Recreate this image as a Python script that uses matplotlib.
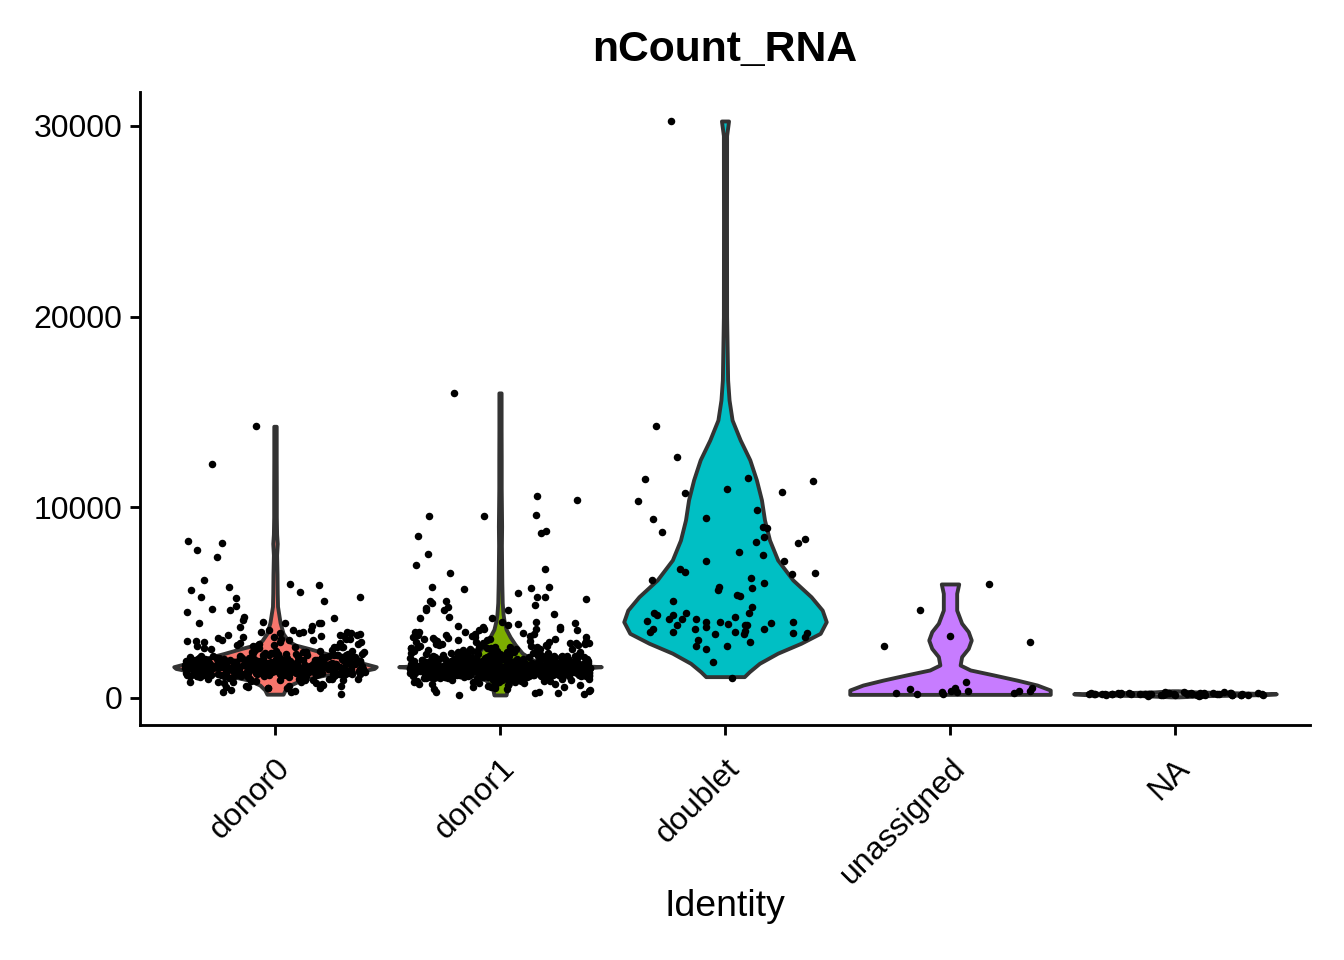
import numpy as np
import matplotlib
matplotlib.use("Agg")
import matplotlib.pyplot as plt

plt.rcParams["font.family"] = ["Liberation Sans", "DejaVu Sans"]

# ---------------------------------------------------------------------------
# data (nCount_RNA per identity)
# ---------------------------------------------------------------------------
identities = ["donor0", "donor1", "doublet", "unassigned", "NA"]
fill_colors = ["#F8766D", "#7CAE00", "#00BFC4", "#C77CFF", "#7F7F7F"]

# violin outlines: count levels and relative half-width (1 = widest)
donor0_prof_y = [200, 420, 680, 940, 1200, 1370, 1550, 1640, 1780, 1990, 2340, 2600,
                 2780, 3000, 3390, 3960, 4800, 5500, 6500, 7500, 8100, 8600, 9500,
                 11000, 12500, 14250]
donor0_prof_w = [0.08, 0.10, 0.15, 0.26, 0.49, 0.82, 0.98, 1.0, 0.9, 0.75, 0.5, 0.33,
                 0.2, 0.13, 0.08, 0.05, 0.025, 0.022, 0.02, 0.016, 0.022, 0.016, 0.013,
                 0.013, 0.012, 0.012]
donor1_prof_y = [160, 420, 680, 940, 1150, 1310, 1480, 1580, 1640, 1700, 1800, 1980,
                 2350, 2800, 3200, 3600, 4050, 4400, 5000, 6000, 7000, 8000, 9000,
                 10000, 11000, 12500, 14000, 16000]
donor1_prof_w = [0.06, 0.07, 0.10, 0.14, 0.25, 0.42, 0.6, 0.85, 1.0, 0.8, 0.5, 0.33,
                 0.22, 0.15, 0.1, 0.06, 0.04, 0.03, 0.022, 0.018, 0.016, 0.014, 0.016,
                 0.014, 0.012, 0.012, 0.011, 0.011]
doublet_prof_y = [1120, 1380, 1820, 2350, 2870, 3390, 4000, 4610, 5310, 6190, 7240,
                  8280, 9340, 10390, 11440, 12490, 13530, 14580, 15630, 16680, 20000,
                  25000, 29500, 30260]
doublet_prof_w = [0.19, 0.24, 0.34, 0.52, 0.75, 0.94, 1.0, 0.96, 0.85, 0.67, 0.52,
                  0.44, 0.39, 0.36, 0.31, 0.245, 0.15, 0.07, 0.04, 0.026, 0.016,
                  0.015, 0.016, 0.035]
unassigned_prof_y = [190, 250, 420, 680, 940, 1210, 1470, 1730, 2170, 2600, 3040, 3480,
                     3920, 4610, 5490, 5980]
unassigned_prof_w = [0.99, 0.99, 0.99, 0.86, 0.66, 0.43, 0.2, 0.1, 0.115, 0.18, 0.21,
                     0.18, 0.115, 0.066, 0.066, 0.086]
na_prof_y = [60, 120, 180, 220, 260, 320, 380]
na_prof_w = [0.04, 0.3, 0.9, 1.0, 0.7, 0.2, 0.03]

# per-cell counts
donor0_counts = [
    1520, 1730, 1280, 1960, 1450, 2210, 1610, 1380, 1840, 1170, 2050, 1690, 1330, 1580, 2370, 1240, 1870, 1490, 1710, 2130,
    1410, 1640, 1920, 1260, 1550, 2480, 1370, 1780, 1090, 1660, 2010, 1440, 1820, 1210, 1590, 2290, 1350, 1750, 1470, 1930,
    1150, 1680, 2160, 1310, 1530, 1890, 1420, 2560, 1620, 1190, 1740, 2080, 1360, 1570, 1980, 1270, 1800, 1460, 2240, 1650,
    1230, 1510, 1850, 1400, 2120, 1700, 1320, 1600, 2420, 1480, 1760, 1130, 1950, 1540, 1390, 2180, 1670, 1250, 1830, 1500,
    2030, 1430, 1720, 1290, 1630, 2330, 1560, 1910, 1180, 1810, 1470, 2090, 1340, 1690, 1520, 2460, 1280, 1770, 1610, 1990,
    1440, 1860, 1210, 1580, 2270, 1370, 1730, 1500, 2140, 1620, 1100, 1880, 1410, 1650, 2000, 1300, 1790, 1540, 2390, 1460,
    1710, 1260, 1940, 1590, 1380, 2200, 1680, 1150, 1820, 1490, 2060, 1350, 1640, 1520, 2510, 1220, 1760, 1430, 1970, 1600,
    1330, 1850, 1570, 2150, 1420, 1700, 1240, 1900, 1550, 2300, 1660, 1120, 1780, 1480, 2040, 1390, 1630, 1870, 1270, 2220,
    1510, 1740, 1360, 2100, 1620, 1200, 1830, 1470, 2410, 1580, 1690, 1310, 1960, 1450, 2170, 1560, 1790, 1160, 1880, 1400,
    2250, 1650, 1290, 1720, 1530, 2020, 1380, 1810, 1600, 2530, 1250, 1750, 1460, 1920, 1340, 2110, 1570, 1680, 1190, 1840,
    1490, 2350, 1620, 1300, 1770, 1540, 2070, 1410, 1860, 1140, 1700, 1590, 2190, 1350, 1640, 1950, 1230, 1820, 1500, 2430,
    1440, 1730, 1280, 1910, 1610, 2060, 1390, 1780, 1520, 2280, 1170, 1670, 1460, 1990, 1320, 1850, 1560, 2140, 1250, 1720,
    1630, 2380, 1420, 1800, 1210, 1580, 2010, 1370, 1690, 1480, 2230, 1110, 1760, 1540, 1930, 1330, 2090, 1620, 1270, 1870,
    1500, 1710, 2160, 1400, 1840, 1590, 1260, 2320, 1650, 1450, 1980, 1180, 1740, 1530, 2040, 1360, 1820, 1610, 2470, 1300,
    1560, 1330, 1890, 1470, 2070, 1240, 1680, 1410, 1950, 1140, 1620, 1790, 1360, 2260, 1510, 1200, 1740, 1430, 2010, 1590,
    1270, 1830, 1480, 2120, 1350, 1660, 1090, 1900, 1540, 1720, 2340, 1300, 1610, 1450, 1980, 1220, 1770, 1390, 2190, 1640,
    1420, 2050, 1180, 1700, 1550, 1870, 1320, 2400, 1490, 1260, 1810, 1600, 2140, 1370, 1690, 1130, 1930, 1460, 1750, 1280,
    1840, 1520, 2230, 1400, 1660, 1210, 1960, 1570, 1340, 2080, 1710, 1160, 1880, 1440, 2300, 1620, 1290, 1780, 1500, 2020,
    2650, 2780, 2920, 3050, 2700, 3180, 2860, 2620, 3310, 2990, 2740, 3440, 2680, 2900, 3120, 2810, 2640, 3250, 2960, 2720,
    3380, 2850, 3020, 2690, 3150, 2770, 2930, 3480, 2660, 3090,
    770, 600, 310, 550, 1000, 600, 500, 840, 420, 210, 770, 630, 380, 500, 310, 840, 690, 630, 510, 1000,
    1000, 1050, 1000, 920, 880, 960, 720, 940, 860, 980, 900, 650, 820, 990, 930,
    14280, 12290, 8250, 8130, 7390, 7740, 6200, 5820, 5930, 5680, 5990, 5570, 4820, 5230, 5070, 5300, 5300,
    4650, 4610, 4490, 4180, 3920, 4000, 3920, 3790, 3950, 3950, 3720, 4090, 3420, 3270, 3440, 3560, 3330,
    3560, 3300, 3560, 3390, 3420, 3210, 3120, 3000, 3030, 4260,
]
donor1_counts = [
    1580, 1320, 1870, 1140, 1690, 2040, 1450, 1260, 1760, 1530, 2210, 1080, 1640, 1390, 1920, 1210, 1710, 1480, 2130, 1350,
    1600, 1930, 1170, 1440, 1820, 1290, 1560, 2280, 1010, 1670, 1400, 1980, 1230, 1740, 1510, 2060, 1120, 1620, 1850, 1340,
    1460, 2170, 1270, 1590, 1780, 1050, 1700, 1420, 2350, 1190, 1550, 1880, 1310, 1650, 2000, 1160, 1730, 1490, 1960, 1380,
    1240, 1810, 1570, 2110, 1360, 1680, 1030, 1900, 1470, 1620, 2240, 1200, 1520, 1790, 1330, 2080, 1610, 1090, 1850, 1430,
    1710, 1280, 1950, 1540, 2190, 1150, 1660, 1410, 1830, 1250, 2010, 1580, 1370, 1760, 1060, 1920, 1500, 2300, 1220, 1640,
    1390, 1870, 1180, 1600, 2070, 1300, 1750, 1460, 1990, 1130, 1690, 1520, 2160, 1270, 1810, 1420, 1040, 1630, 1940, 1350,
    1550, 2120, 1210, 1680, 1440, 1860, 1100, 1720, 1500, 2260, 1320, 1590, 1970, 1240, 1780, 1410, 2050, 1170, 1650, 1480,
    1910, 1260, 1570, 1830, 1370, 2200, 1140, 1700, 1450, 2030, 1290, 1610, 1880, 1020, 1740, 1530, 2140, 1200, 1660, 1390,
    1800, 1480, 2090, 1160, 1620, 1340, 1960, 1250, 1720, 1560, 2320, 1070, 1690, 1430, 1850, 1300, 2020, 1590, 1190, 1770,
    1420, 1940, 1230, 1650, 2180, 1350, 1510, 1790, 1110, 1730, 1460, 2100, 1280, 1600, 1870, 1380, 2250, 1150, 1680, 1520,
    2060, 1310, 1580, 1820, 1200, 1760, 1470, 1990, 1090, 1640, 1400, 2150, 1260, 1710, 1540, 1900, 1330, 2270, 1180, 1620,
    1490, 1840, 1130, 1670, 1950, 1360, 1570, 2080, 1220, 1780, 1440, 1880, 1050, 1700, 1610, 2230, 1290, 1530, 1970, 1400,
    1730, 1270, 2010, 1560, 1380, 1860, 1140, 1650, 2190, 1330, 1500, 1790, 1240, 1920, 1470, 2110, 1170, 1690, 1580, 1350,
    1960, 1210, 1620, 1830, 1410, 2290, 1080, 1740, 1520, 2040, 1300, 1660, 1890, 1190, 1560, 1450, 2170, 1250, 1770, 1600,
    1370, 1850, 1530, 2120, 1160, 1680, 1430, 1980, 1280, 1750, 1590, 2310, 1120, 1640, 1490, 1910, 1340, 2060, 1200, 1720,
    1550, 1270, 1870, 1420, 2210, 1180, 1700, 1510, 1940, 1310, 1660, 1830, 1060, 1590, 2030, 1390, 1760, 1230, 2140, 1480,
    1630, 1920, 1290, 1570, 1800, 1350, 2080, 1150, 1710, 1460, 1990, 1260, 1650, 2250, 1410, 1840, 1100, 1730, 1540, 1880,
    1320, 2000, 1610, 1190, 1780, 1500, 2160, 1250, 1690, 1440, 1930, 1360, 2200, 1130, 1620, 1820, 1470, 1990, 1280, 1570,
    1740, 1400, 2090, 1210, 1660, 1530, 1860, 1300, 2340, 1170, 1590, 1790, 1450, 2020, 1240, 1710, 1380, 1950, 1520, 1140,
    1680, 2130, 1330, 1600, 1890, 1260, 1770, 1490, 2260, 1090, 1640, 1420, 1970, 1310, 1730, 1560, 2050, 1200, 1810, 1460,
    1250, 1640, 1880, 1430, 1070, 1720, 1550, 2010, 1310, 1690, 1480, 1150, 1830, 1600, 1370, 2180, 1520, 1270, 1760, 1410,
    1590, 1180, 1940, 1460, 1710, 1340, 2070, 1620, 1230, 1800, 1500, 1120, 1670, 1390, 1910, 1560, 1290, 1740, 1440, 2150,
    2380, 2450, 2520, 2410, 2570, 2360, 2480, 2430, 2550, 2390, 2500, 2460, 2370, 2590, 2420, 2530, 2400, 2470, 2560, 2440,
    2650, 2880, 3120, 2740, 3350, 2960, 2610, 3210, 2820, 3540, 2700, 3030, 2910, 3460, 2780, 3180, 2630, 3290, 2990, 3700,
    2720, 3080, 2850, 3400, 2670, 3150, 2940, 3620, 2800, 3250, 2690, 3010, 3480, 2870, 3330, 2760, 3820, 2930, 3100, 2640,
    3560, 2830, 3220, 2710, 3900, 3050, 2900, 3370, 2680, 3160, 2790, 3980, 2970, 3270, 2620, 3440, 2860, 3060, 3750, 2750,
    310, 450, 260, 390, 560, 620, 190, 170, 240, 330, 480, 720, 850, 900, 950, 640, 580, 430, 810, 930,
    990, 870, 760, 680, 540, 960, 910, 830, 980, 890, 700, 780, 940, 860, 920, 970, 600, 740, 820, 880,
    16000, 10610, 9540, 9540, 8670, 8740, 6960, 6570, 5730, 5210, 7550, 6750, 5820, 5820, 5770, 5520, 5300,
    5090, 5300, 5000, 4790, 4710, 4630, 4600, 4610, 4880, 5100, 4420, 4200, 4200, 4270, 4000, 3600, 3600,
    3910, 3740, 10400, 9600, 8500,
]
doublet_counts = [
    30260, 14280, 12640, 11550, 11470, 10730, 11380, 10940, 10330, 9860, 10790, 9440, 9400,
    8900, 8970, 8700, 8200, 8460, 8360, 8110, 7510, 7660, 7180, 7170, 6750, 6590, 6520, 6570,
    6310, 6010, 6190, 5800, 5680, 5750, 5360, 5420, 5100, 4770, 4470, 4470, 4470, 4370, 4340,
    4230, 4140, 4140, 4160, 4000, 4050, 3970, 3920, 3840, 3830, 3850, 3970, 3720, 3900, 3600,
    3640, 3530, 3460, 3390, 3440, 3400, 3630, 3440, 3340, 3370, 3220, 2920, 3040, 2710, 2590,
    2710, 1870, 1060,
]
unassigned_counts = [5980, 4610, 3230, 2950, 2730, 820, 510, 520, 470, 360, 360, 330, 250,
                     360, 210, 250, 230, 290, 360]
na_counts = [
    210, 180, 250, 150, 220, 300, 190, 120, 260, 200, 170, 230, 280, 140, 210, 240, 190, 160,
    270, 220, 200, 250, 130, 180, 230, 310, 210, 170, 240, 190, 260, 150, 220, 200, 280, 180,
    230, 210, 160, 250, 190, 270, 220, 140, 240, 200, 180, 290, 210, 230, 170, 250, 190, 220,
]

profiles_y = [donor0_prof_y, donor1_prof_y, doublet_prof_y, unassigned_prof_y, na_prof_y]
profiles_w = [donor0_prof_w, donor1_prof_w, doublet_prof_w, unassigned_prof_w, na_prof_w]
counts = [donor0_counts, donor1_counts, doublet_counts, unassigned_counts, na_counts]


def jitter(n, seed):
    """Deterministic horizontal jitter in [-0.4, 0.4] (like geom_jitter width)."""
    k = np.arange(n) + 1.0 + seed * 1000.0
    u = np.modf(np.abs(np.sin(k * 12.9898) * 43758.5453))[0]
    return (2.0 * u - 1.0) * 0.4


fig = plt.figure(figsize=(7, 5), dpi=192)
ax = fig.add_axes([140 / 1344, 1 - 725 / 960, 1170 / 1344, 633 / 960])

for i, (py, pw, col) in enumerate(zip(profiles_y, profiles_w, fill_colors)):
    y = np.asarray(py, dtype=float)
    w = np.asarray(pw, dtype=float) * 0.45
    ax.fill_betweenx(y, i + 1 - w, i + 1 + w, facecolor=col, edgecolor="#333333",
                     linewidth=1.45, zorder=2)

for i, vals in enumerate(counts):
    vals = np.asarray(vals, dtype=float)
    ax.scatter(i + 1 + jitter(len(vals), i), vals, s=8, c="black",
               linewidths=0, zorder=3)

ax.set_xlim(0.4, 5.6)
ax.set_ylim(-1416, 31780)
ax.set_xticks(range(1, len(identities) + 1))
ax.set_xticklabels(identities, rotation=45, ha="right", va="top",
                   rotation_mode="anchor", fontsize=12)
ax.set_yticks([0, 10000, 20000, 30000])
ax.set_yticklabels(["0", "10000", "20000", "30000"], fontsize=12)
for side in ("top", "right"):
    ax.spines[side].set_visible(False)
for side in ("left", "bottom"):
    ax.spines[side].set_linewidth(1.07)
ax.tick_params(axis="both", length=3.6, width=1.07, colors="black")
ax.tick_params(axis="y", pad=3)
ax.tick_params(axis="x", pad=7)

fig.text(725 / 1344, 1 - 50 / 960, "nCount_RNA", fontsize=16, fontweight="bold",
         ha="center", va="center")
fig.text(725 / 1344, 1 - 906 / 960, "Identity", fontsize=14, ha="center", va="center")

fig.savefig("out.png", dpi=192)
